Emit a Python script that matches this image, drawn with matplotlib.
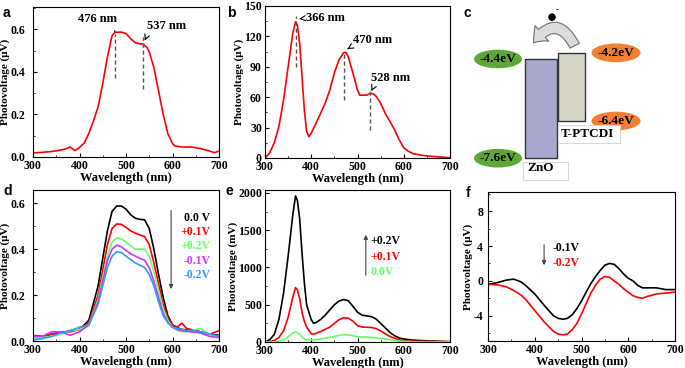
import numpy as np
import matplotlib.pyplot as plt
from matplotlib.patches import Rectangle, Ellipse, FancyArrowPatch
from matplotlib.ticker import MultipleLocator

plt.rcParams['font.family'] = ['Liberation Serif', 'DejaVu Serif']
plt.rcParams['font.weight'] = 'bold'
plt.rcParams['axes.labelweight'] = 'bold'
plt.rcParams['axes.unicode_minus'] = False

W, H = 685, 368

# ---- panel a : single red spectrum
wl_a = [300, 320, 340, 360, 370, 380, 390, 400, 410, 420, 430, 440, 450, 460, 470, 476,
        490, 500, 510, 520, 530, 537, 545, 550, 560, 570, 580, 590, 600, 605, 620, 640,
        660, 680, 690, 700]
pv_a = [0.019, 0.022, 0.026, 0.033, 0.038, 0.047, 0.030, 0.045, 0.065, 0.11, 0.17, 0.235,
        0.345, 0.47, 0.57, 0.586, 0.587, 0.58, 0.556, 0.537, 0.532, 0.530, 0.515, 0.494,
        0.42, 0.31, 0.20, 0.11, 0.063, 0.052, 0.047, 0.047, 0.040, 0.028, 0.020, 0.028]
peaks_a = [476, 537]
dash_a = [(0.37, 0.58), (0.32, 0.564)]

# ---- panel b
wl_b = [300, 310, 320, 330, 340, 350, 360, 366, 370, 375, 380, 385, 390, 395, 400, 410,
        420, 430, 440, 450, 460, 470, 475, 480, 490, 500, 505, 515, 520, 528, 535, 540,
        550, 560, 570, 580, 590, 600, 610, 620, 640, 660, 680, 700]
pv_b = [0, 5, 15, 31, 57, 90, 123, 134.5, 131, 113, 80, 48, 26, 21, 24.6, 34,
        44, 54, 67, 84, 97, 104, 104, 100, 84, 67, 62, 62, 62, 64, 63, 61,
        54, 44, 36, 28, 18, 10, 6.6, 4.3, 2.6, 1.6, 1.0, 0.3]
peaks_b = [366, 470, 528]
dash_b = [(90, 140), (57, 106), (28, 67)]

# ---- panel c : energy levels (eV)
zno_levels = [-4.4, -7.6]
ptcdi_levels = [-4.2, -6.4]

# ---- panel d : bias dependence
wl_d = [300, 320, 340, 360, 380, 400, 420, 440, 450, 460, 470, 480, 490, 500, 510, 520,
        530, 540, 550, 560, 570, 580, 590, 600, 610, 620, 630, 640, 660, 680, 700]
pv_d_0 = [0.020, 0.020, 0.030, 0.035, 0.045, 0.050, 0.090, 0.24, 0.36, 0.48, 0.565, 0.588,
          0.588, 0.575, 0.55, 0.535, 0.530, 0.528, 0.49, 0.40, 0.29, 0.19, 0.11, 0.070,
          0.058, 0.050, 0.049, 0.048, 0.040, 0.030, 0.025]
pv_d_p1 = [0.025, 0.020, 0.030, 0.040, 0.040, 0.050, 0.080, 0.20, 0.31, 0.42, 0.49, 0.51,
           0.508, 0.495, 0.48, 0.47, 0.462, 0.455, 0.42, 0.34, 0.25, 0.16, 0.10, 0.070,
           0.060, 0.078, 0.055, 0.050, 0.040, 0.030, 0.045]
pv_d_p2 = [0.010, 0.015, 0.020, 0.030, 0.045, 0.050, 0.070, 0.18, 0.28, 0.37, 0.43, 0.45,
           0.445, 0.43, 0.415, 0.40, 0.40, 0.40, 0.37, 0.30, 0.22, 0.14, 0.09, 0.060,
           0.045, 0.040, 0.042, 0.045, 0.055, 0.030, 0.020]
pv_d_m1 = [0.020, 0.020, 0.040, 0.040, 0.025, 0.040, 0.070, 0.17, 0.26, 0.35, 0.40, 0.418,
           0.41, 0.395, 0.38, 0.37, 0.36, 0.352, 0.32, 0.26, 0.19, 0.12, 0.08, 0.060,
           0.050, 0.045, 0.042, 0.040, 0.035, 0.020, 0.015]
pv_d_m2 = [0.005, 0.010, 0.020, 0.035, 0.045, 0.060, 0.070, 0.16, 0.24, 0.32, 0.37, 0.389,
           0.385, 0.37, 0.355, 0.34, 0.33, 0.32, 0.29, 0.24, 0.17, 0.11, 0.08, 0.060,
           0.055, 0.050, 0.047, 0.045, 0.040, 0.030, 0.020]
labels_d = ['0.0 V', '+0.1V', '+0.2V', '-0.1V', '-0.2V']
colors_d = ['black', '#ff0000', '#66ff66', '#cc33ff', '#3399ff']

# ---- panel e
wl_e = [300, 310, 320, 330, 340, 350, 360, 366, 370, 375, 380, 385, 390, 400, 405, 410,
        420, 430, 440, 450, 460, 470, 480, 490, 500, 510, 520, 530, 540, 550, 560, 570,
        580, 590, 600, 620, 650, 700]
pv_e_2 = [0, 30, 100, 300, 650, 1150, 1700, 1960, 1900, 1650, 1200, 800, 500, 300, 250, 260,
          300, 360, 430, 500, 550, 570, 555, 480, 400, 360, 350, 340, 310, 250, 190, 130,
          85, 55, 40, 25, 15, 5]
pv_e_1 = [0, 5, 20, 60, 150, 330, 600, 730, 700, 580, 400, 280, 200, 110, 105, 115,
          140, 170, 200, 250, 300, 325, 320, 280, 220, 200, 198, 195, 180, 150, 110, 75,
          50, 30, 20, 10, 6, 3]
pv_e_0 = [0, 0, 0, 10, 30, 70, 120, 135, 125, 100, 70, 45, 30, 25, 27, 30,
          40, 50, 60, 75, 90, 100, 95, 85, 70, 67, 65, 62, 55, 48, 40, 30,
          20, 12, 8, 3, 0, 0]
labels_e = ['+0.2V', '+0.1V', '0.0V']
colors_e = ['black', '#ff0000', '#66ff66']

# ---- panel f
wl_f = [300, 320, 340, 355, 370, 380, 400, 420, 440, 450, 460, 470, 480, 490, 500, 510,
        520, 530, 540, 550, 560, 570, 580, 590, 600, 610, 620, 630, 640, 660, 680, 700]
pv_f_1 = [-0.4, -0.2, 0.1, 0.2, -0.1, -0.5, -1.5, -2.8, -4.0, -4.3, -4.4, -4.3, -3.9, -3.2,
          -2.3, -1.3, -0.3, 0.5, 1.2, 1.8, 2.0, 1.9, 1.4, 0.8, 0.3, 0.0, -0.5, -0.8, -0.8,
          -0.8, -1.0, -1.0]
pv_f_2 = [-0.4, -0.45, -0.7, -1.1, -1.6, -2.1, -3.4, -4.7, -5.8, -6.1, -6.2, -6.1, -5.6,
          -4.9, -3.8, -2.6, -1.4, -0.5, 0.2, 0.5, 0.4, 0.0, -0.4, -0.9, -1.3, -1.7, -1.9,
          -2.0, -1.8, -1.5, -1.4, -1.3]
labels_f = ['-0.1V', '-0.2V']
colors_f = ['black', '#ff0000']

fig = plt.figure(figsize=(6.85, 3.68), dpi=100)


def make_ax(x0, y0, x1, y1):
    return fig.add_axes([x0 / W, 1 - y1 / H, (x1 - x0) / W, (y1 - y0) / H])


def style(ax, ylim, major, minor, ylabel, ypad):
    ax.set_xlim(300, 700)
    ax.set_ylim(*ylim)
    ax.xaxis.set_major_locator(MultipleLocator(100))
    ax.xaxis.set_minor_locator(MultipleLocator(50))
    ax.yaxis.set_major_locator(MultipleLocator(major))
    ax.yaxis.set_minor_locator(MultipleLocator(minor))
    ax.tick_params(which='both', direction='in', top=False, right=False, labelsize=8.5)
    ax.tick_params(axis='x', pad=2.5)
    ax.tick_params(axis='y', pad=ypad)
    ax.tick_params(which='major', length=3)
    ax.tick_params(which='minor', length=1.5)
    ax.set_xlabel('Wavelength (nm)', fontsize=9, labelpad=-0.5)
    ax.set_ylabel(ylabel, fontsize=8, labelpad=0)


def panel_label(x, y, s):
    fig.text(x / W, 1 - y / H, s, family='Liberation Sans', weight='bold',
             fontsize=10, va='top', ha='left')


dash_kw = dict(color='#555555', lw=1, ls=(0, (3, 2)))

# a
ax = make_ax(33, 7, 219, 157)
ax.plot(wl_a, pv_a, color='#ff0000', lw=1.2)
for p, (lo, hi) in zip(peaks_a, dash_a):
    ax.plot([p, p], [lo, hi], **dash_kw)
ax.annotate('476 nm', xy=(476, 0.59), xytext=(438, 0.648), ha='center', va='center',
            fontsize=9, arrowprops=dict(arrowstyle='-', lw=0.8, relpos=(0.9, 0.1)))
ax.annotate('537 nm', xy=(538, 0.535), xytext=(545, 0.616), ha='left', va='center',
            fontsize=9, arrowprops=dict(arrowstyle='->', lw=0.8, relpos=(0.05, 0.1)))
style(ax, (0, 0.705), 0.2, 0.1, 'Photovoltage (μV)', 5.5)
panel_label(3, 6, 'a')

# b
ax = make_ax(265, 6, 450, 158)
ax.plot(wl_b, pv_b, color='#ff0000', lw=1.2)
for p, (lo, hi) in zip(peaks_b, dash_b):
    ax.plot([p, p], [lo, hi], **dash_kw)
ax.annotate('366 nm', xy=(368, 137), xytext=(388, 138), ha='left', va='center',
            fontsize=9, arrowprops=dict(arrowstyle='->', lw=0.8, relpos=(0, 0.5)))
ax.annotate('470 nm', xy=(473, 106), xytext=(490, 116), ha='left', va='center',
            fontsize=9, arrowprops=dict(arrowstyle='->', lw=0.8, relpos=(0.02, 0.1)))
ax.annotate('528 nm', xy=(530, 66), xytext=(530, 79), ha='left', va='center',
            fontsize=9, arrowprops=dict(arrowstyle='->', lw=0.8, relpos=(0.1, 0.1)))
style(ax, (0, 150), 30, 15, 'Photovoltage (μV)', 2.2)
panel_label(227, 6, 'b')

# c : band diagram, x in pixels, y in eV
axc = make_ax(455, 0, 685, 185)
axc.set_xlim(455, 685)
axc.set_ylim(-8.465, -2.497)
axc.axis('off')
axc.add_patch(Rectangle((525, zno_levels[1]), 32, zno_levels[0] - zno_levels[1],
                        facecolor='#a7a7cf', edgecolor='#333333', lw=1))
axc.add_patch(Rectangle((558, ptcdi_levels[1]), 27, ptcdi_levels[0] - ptcdi_levels[1],
                        facecolor='#d7d5c6', edgecolor='#333333', lw=1))
for e in zno_levels:
    axc.add_patch(Ellipse((498, e), 48, 0.6, facecolor='#5ea83a', edgecolor='none'))
    axc.text(498, e, '%.1feV' % e, ha='center', va='center', fontsize=9.5)
for e in ptcdi_levels:
    axc.add_patch(Ellipse((616, e), 49, 0.6, facecolor='#f07f34', edgecolor='none'))
    axc.text(616, e, '%.1feV' % e, ha='center', va='center', fontsize=9.5)
axc.add_patch(Rectangle((558, -7.11), 62, 0.58, facecolor='white', edgecolor='#d8d8d8', lw=0.8))
axc.text(587, -6.83, 'T-PTCDI', ha='center', va='center', fontsize=9.5)
axc.add_patch(Rectangle((523, -8.30), 45, 0.58, facecolor='white', edgecolor='#d8d8d8', lw=0.8))
axc.text(541, -7.92, 'ZnO', ha='center', va='center', fontsize=9.5)
axc.add_patch(FancyArrowPatch((576, -4.05), (532, -3.95),
                              connectionstyle='arc3,rad=0.85',
                              arrowstyle='simple,head_length=0.9,head_width=1.5,tail_width=0.75',
                              mutation_scale=10, facecolor='#dcdcdc', edgecolor='#707070', lw=0.8))
axc.add_patch(Ellipse((552, -3.05), 6, 0.2, facecolor='black', edgecolor='black'))
axc.text(557, -2.82, '-', fontsize=6, ha='center', va='center')
panel_label(464, 6, 'c')

# d
ax = make_ax(33, 190, 219, 341)
series_d = [pv_d_0, pv_d_p1, pv_d_p2, pv_d_m1, pv_d_m2]
for ys, c in zip(series_d, colors_d):
    ax.plot(wl_d, ys, color=c, lw=1.2)
for i, (lab, c) in enumerate(zip(labels_d, colors_d)):
    ax.text(681, 0.538 - i * 0.0625, lab, color=c, ha='right', va='center', fontsize=8.5)
ax.annotate('', xy=(597, 0.214), xytext=(597, 0.581),
            arrowprops=dict(arrowstyle='-|>', color='#444444', lw=0.8, mutation_scale=6))
style(ax, (0, 0.658), 0.2, 0.1, 'Photovoltage (μV)', 5.5)
panel_label(3, 184, 'd')

# e
ax = make_ax(265, 190, 450, 342)
for ys, c in zip([pv_e_2, pv_e_1, pv_e_0], colors_e):
    ax.plot(wl_e, ys, color=c, lw=1.2)
for i, (lab, c) in enumerate(zip(labels_e, colors_e)):
    ax.text(529, 1355 - i * 208, lab, color=c, ha='left', va='center', fontsize=8.5)
ax.annotate('', xy=(518, 1476), xytext=(518, 859),
            arrowprops=dict(arrowstyle='-|>', color='#444444', lw=0.8, mutation_scale=6))
style(ax, (0, 2040), 500, 250, 'Photovoltage (mV)', 2.2)
panel_label(226, 184, 'e')

# f
ax = make_ax(488, 192, 675, 341)
for ys, c in zip([pv_f_1, pv_f_2], colors_f):
    ax.plot(wl_f, ys, color=c, lw=1.2)
for i, (lab, c) in enumerate(zip(labels_f, colors_f)):
    ax.text(439, 3.77 - i * 1.72, lab, color=c, ha='left', va='center', fontsize=8.5)
ax.annotate('', xy=(420, 1.48), xytext=(420, 4.46),
            arrowprops=dict(arrowstyle='-|>', color='#444444', lw=0.8, mutation_scale=6))
style(ax, (-6.9, 10.2), 4, 2, 'Photovoltage (μV)', 3.6)
panel_label(466, 186, 'f')

fig.savefig('out.png', dpi=100)
